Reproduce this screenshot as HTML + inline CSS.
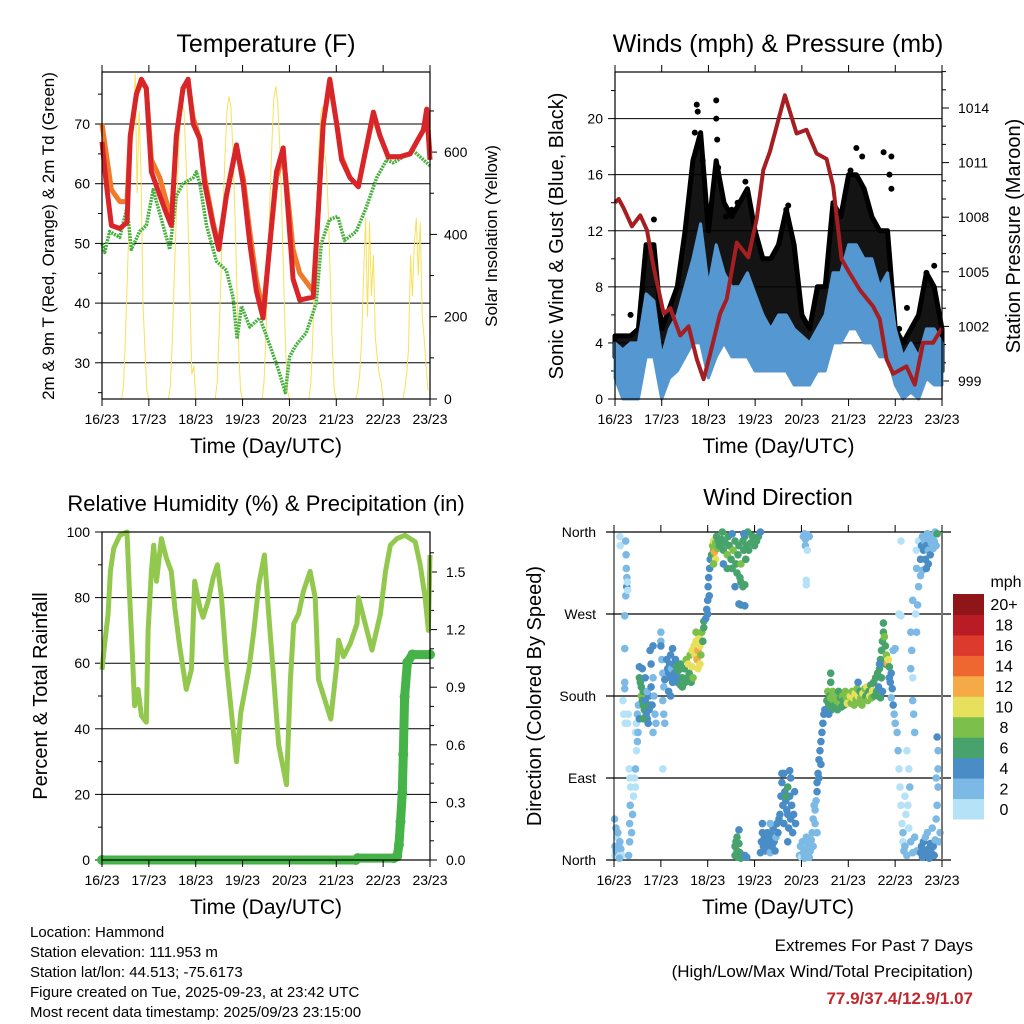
<!DOCTYPE html>
<html><head><meta charset="utf-8">
<style>
html,body{margin:0;padding:0;background:#fff;}
svg{display:block;font-family:"Liberation Sans",Arial,sans-serif;}
</style></head>
<body>
<svg id="chart" width="1024" height="1024" viewBox="0 0 1024 1024" xmlns="http://www.w3.org/2000/svg">
<rect x="0" y="0" width="1024" height="1024" fill="#fff"/>
</svg>
<script>
// ---------- shared ----------
const dayLabels = ["16/23","17/23","18/23","19/23","20/23","21/23","22/23","23/23"];

// ---------- temperature panel ----------
const tHours = [0,2.2,4.8,9.1,12.8,14.5,17.6,20.2,22.7,25.3,29.6,33,35.5,38.1,41.5,44.1,46.7,50.1,52.6,56.9,59.8,63.7,68.9,72.3,75.7,79.1,82.5,86,89.4,92.8,95.4,97.9,101.3,108.2,110.7,113.3,116.7,120.2,122.7,127,131.3,134.7,139,142.4,146.6,152.6,157.8,161.2,164.6,166.3,168];
const tempRed = [67,60,53,52.5,53.5,68,75,77.5,76,62,58,55,53,68,76,77.5,70,67.5,60,53,49,58,66.5,60,50,42,37.5,50,62,66,55,44,40.5,41,55,70,77.5,70,64,61,59.5,65,72,68,64.5,64.5,65,67,69,72.5,64];
const tempOrange = [70,65,59,57,57,68,75,77,76,64,61,57,54,68,76,77,71,67.5,61,53.5,49.5,58,66,61,52,44,38.5,50,61,65,57,49,45,42,55,70,77,70,64.5,61,59.5,65,71.5,68,64.5,64.5,65,67,69,71.5,65];
const dewHours = [0,1.4,3.9,9.1,12.8,15,19.3,22.7,26.2,29.6,34.7,38.1,41.5,46.7,48.4,50.1,53.5,58.6,63.7,67.1,69.2,71.4,75.7,80.8,85.9,90.2,93.9,96.1,99.4,104.6,109.7,112.3,116.5,120.8,124.2,130.2,135.3,140.7,145.8,149.2,154.4,159.5,164.6,168];
const dewGreen = [50,48.5,52,51,56,49,52,53,59,55,49,58,60,61,62,60,53,47,45.5,41,34,39.5,36,37.5,33,29,25,31,33,35,40,50,54,54.5,50.5,52,56,61,64,63.5,64.5,65.5,64,63];
const solarVals = [0,0,0,0,0,0,0,0,0,0,0,30,150,300,450,600,650,790,500,700,550,230,120,20,0,0,0,0,0,0,0,0,0,0,0,30,140,290,440,560,680,720,700,580,450,250,60,80,0,0,0,0,0,0,0,0,0,0,0,40,160,310,460,590,700,735,710,610,460,290,120,20,0,0,0,0,0,0,0,0,0,0,0,40,160,320,480,620,730,760,720,620,470,300,130,20,0,0,0,0,0,0,0,0,0,0,0,40,160,310,460,600,690,711,600,560,440,280,120,20,0,0,0,0,0,0,0,0,0,0,0,20,60,150,300,440,200,430,250,350,150,100,60,40,0,0,0,0,0,0,0,0,0,0,0,20,60,120,350,250,380,440,300,430,200,150,80,20];
const tempTicks = [30,40,50,60,70];
const solarTicks = [0,200,400,600];

// ---------- wind panel ----------
const windHours = [0,4,8,12,16,20,24,28,32,36,40,44,48,52,56,60,64,68,72,76,80,84,88,92,96,100,104,108,112,116,120,124,128,132,136,140,144,148,152,156,160,164,168];
const windLow =  [1.5,0,0,0,3,3,0,1.5,2,3,4,4,1.5,3,4,3,3,3,2,2,2,2,2,1,1,1,2,2,4,4,5,5,4,4,3,3,1,0,0.5,0,1.5,1,1];
const windHigh = [4,3.5,4,4,7.5,7,3,5,6,8,10,12.5,8,11,9,8,8,9,7.5,6,5,6,6,5,4.5,4,5,6,9,9,11,11,10,10,8,9,5,3,4,3,5,5,4];
const gustLow =  [3,2,3,2,5,5,1,3,4,5,8,9,4,7,8,8,7,8,6,4,5,6,6,4,3,2,3,4,6,7,9,8,7,6,5,5,2,1,2,1,4,3,2];
const gustHigh = [4.5,4.5,4.5,5,11,11,5,6.5,8,12,17,19,12,17,14,13,14,15,12,10,10,11,13.5,11,6,5,8,8,14,13,16,16,15,13,12,12,5,4,5,6,9,8,5];
const gustPeakHours = [8,20,41,42,42.5,45,52,52,52.5,53,57,60,63,67,88,89,121,124,127,138,141,142,142,146,150,160,164];
const gustPeakVals  = [6,12.8,19,21,20.5,17,21.3,20,18.5,16.5,13,13.5,14,15.5,13.5,13.8,16.3,17.9,17.3,17.6,16,17.3,15,5,6.5,9,9.5];
const presHours = [0,1.9,4.4,8.7,13,16.4,19.8,25,28.4,33.5,37.8,42,45.5,48.9,54,57.4,62.6,68.5,72.8,76.2,79.6,83.1,87.3,93.3,98.4,103.6,108.7,112.1,116.4,120.7,125.8,132.6,136,139.5,142.9,146.3,149.7,154,158.3,163.4,168];
const presVals = [1008.8,1009,1008.5,1007.5,1008.1,1007.3,1005.3,1002.7,1003,1001.5,1002,1000.2,999.1,1000.5,1002.7,1003.5,1006.6,1005.8,1007.9,1010.6,1011.6,1013,1014.7,1012.6,1012.8,1011.5,1011.2,1009.7,1005.7,1004.9,1004,1003.1,1002.4,1000.2,999.4,999.6,999.8,998.8,1001.1,1001.1,1001.9];
const windTicks = [0,4,8,12,16,20];
const presTicks = [999,1002,1005,1008,1011,1014];

// ---------- RH / precip panel ----------
const rhHours = [0,1.4,3.1,4.3,6,9.1,12.8,14.2,15.6,16.7,18.5,20.2,22.7,23.6,25.3,26.5,27.9,30.4,33,35.5,37.3,39.8,43.2,45.8,47.5,50.1,51.8,54.4,56.9,59.1,61.2,63.7,66.3,68.9,71.1,75.2,77.8,80.3,83.2,85.4,88,90.5,94.5,96.5,98.2,100.7,103.2,106.6,109.2,110.9,113.5,117.2,120.3,121.2,123.7,127.2,130.6,131.4,134.8,138.3,142.6,145.2,147.7,151.1,155.2,160.4,163,165.5,167.2,168];
const rhVals = [58,66,75,88,95,99,100,80,62,47,52,44,42,70,88,96,85,98,92,88,77,65,52,58,85,77,74,79,86,90,80,60,45,30,45,58,70,84,93,75,55,35,23,55,72,75,82,88,80,55,50,43,60,67,62,66,72,80,72,64,75,88,96,98,99,97,90,80,70,93];
const precipHours = [0,130,131,149.5,151.2,152.1,152.9,153.8,154.3,155,156.4,159,168];
const precipVals = [0,0,0.01,0.01,0.02,0.08,0.2,0.35,0.55,0.85,1.03,1.07,1.07];
const rhTicks = [0,20,40,60,80,100];
const precipTicks = ["0.0","0.3","0.6","0.9","1.2","1.5"];

// ---------- wind direction panel ----------
const dirNames = ["North","East","South","West","North"];
const speedLabels = ["0","2","4","6","8","10","12","14","16","18","20+"];
const speedColors = ["#b5e2f6","#7cb9e4","#4a8dc6","#47a36b","#7cc04b","#e6e05c","#f5a947","#ee6630","#dc3a2c","#ba1c25","#8f1519"];
// observations: [hour, direction(deg), speed(mph)]
const wdObs = [
[0.5,5,1],[0.5,15,2],[1,10,2],[1.5,25,1],[2,8,3],[2,30,2],[2.5,15,2],[3,5,1],[3,20,2],[3.5,12,2],[1,35,2],[0.3,45,2],[4,5,1],[2.8,2,2],
[3,355,1],[3.2,345,1],[6,350,2],[6.2,335,3],[6.3,320,2],[6.5,300,4],[6.6,310,3],[6,290,2],[6.8,305,1],[7,296,1],
[5.5,268,2],[5.5,232,3],[5.5,195,3],[5.5,188,3],[5,160,1],[5.8,150,1],[4.6,175,1],
[7.5,5,2],[8,20,3],[8,40,3],[8.3,60,2],[8.5,80,1],[8.2,90,1],[7.8,100,1],[9,30,3],[9.5,50,3],[10,70,1],[11,80,1],[10.5,90,1],[11,100,2],[11.5,120,1],[11,140,1],[12,130,2],[11.5,150,1],[7,150,1],[7.3,160,1],
[12,160,3],[12.5,170,2],[13,155,4],[12.3,140,2],
[13,200,6],[13.5,195,7],[14,190,6],[14,180,8],[14.5,175,6],[15,170,7],[15.5,165,6],[15,185,6],[16,175,5],[16.5,160,4],[17,155,4],[17.5,150,5],[16,200,4],[14.5,210,5],[13,212,4],[18,165,4],[18,180,5],[17,185,3],[18.5,170,6],[15,155,6],
[19,190,4],[19.5,170,4],[20,200,3],[20.5,180,3],[21,160,2],[21.5,150,2],[19,215,5],[18.5,230,4],[20,235,4],
[24,250,2],[24,240,2],[24.5,220,3],[25,205,2],[25.5,190,2],[25,175,2],[25.5,160,2],[26,150,2],[25,100,1],[24,235,4],[20,140,2],
[27,220,4],[27.5,210,4],[28,205,4],[28.5,215,5],[29,200,4],[29,225,4],[29.5,210,3],[30,195,4],[30.5,215,5],[31,205,4],[31.5,220,4],[32,200,4],[32,212,6],[32.5,195,5],[33,208,6],[33.5,200,4],[34,192,6],[34,215,6],[35,200,6],[35,190,7],[28,185,4],[30,232,4],[26,198,4],[29,180,4],
[36,210,6],[36.5,195,7],[37,220,8],[37.5,200,6],[38,215,10],[38.5,205,7],[39,225,9],[39.5,195,6],[40,230,10],[40,212,11],[40.5,200,8],
[41,235,10],[41.5,225,11],[42,240,10],[42.5,220,12],[43,230,13],[43.5,245,11],[44,235,10],[44.5,225,9],[45,250,8],[45.5,240,7],[46,255,7],[46,262,6],[44,215,11],[43,210,10],[42,250,9],
[47,265,4],[47.5,275,4],[48,285,4],[48.2,300,4],[48.5,310,4],[49,320,4],[48.8,290,4],[49.3,330,4],[48,270,4],
[50,335,6],[50.5,345,8],[51,340,9],[51,350,10],[51.5,338,12],[52,348,9],[52.5,355,7],[53,342,8],[53.5,350,6],[52,330,10],[51,325,9],
[54,345,6],[55,352,6],[56,340,7],[57,348,6],[58,335,8],[58.5,355,6],[59,345,7],[60,330,6],[60.5,320,6],[61,340,8],[62,350,6],[62.5,325,7],[63,315,6],[63.5,335,7],[64,345,6],[64.5,310,6],[65,325,8],[66,350,6],[66.5,340,6],[67,355,6],[67.5,330,6],[68,345,6],[68.5,360,6],[69,340,6],[70,348,6],[71,355,6],[72,345,6],[73,350,6],[74,355,6],[65,305,6],[66,300,6],[67,302,6],[62,300,5],[58,320,6],[56,325,4],[55.5,360,6],[60.5,358,4],[66.5,358,4],[75,360,4],
[65,280,6],[67,279,5],[64,281,4],
[62,5,6],[62,15,6],[62.5,20,7],[63,10,6],[63.5,3,6],[64,18,6],[64.5,8,6],[65,2,7],[63,25,6],[67,5,4],[68,3,4],[64,33,4],
[75,8,5],[75.5,20,4],[76,30,4],[76.5,15,4],[77,25,4],[77.5,10,4],[78,18,4],[78.5,30,4],[79,12,4],[79.5,22,4],[80,8,3],[80.5,28,4],[81,15,4],[81.5,35,4],[82,20,4],[82.5,10,4],[83,25,3],[83.5,40,4],[84,30,4],[84.5,45,4],[76,40,4],[80,40,3],
[85,50,4],[85.5,70,4],[86,85,4],[86,95,4],[86.5,60,4],[87,40,4],[87.5,75,5],[88,65,4],[88.5,55,4],[89,80,6],[89,50,4],[89.5,35,4],[90,70,4],[90.5,90,4],[90.5,45,4],[91,60,4],[91.5,30,4],[92,50,4],[92.5,75,4],[93,40,4],[88,70,7],[87,95,4],[90,98,4],[89,20,4],
[95,5,2],[95.5,15,2],[96,3,1],[96.5,20,2],[97,8,2],[97.5,2,2],[98,12,2],[98.5,25,2],[99,5,2],[99.5,18,2],[100,3,2],[100.5,10,2],[101,22,2],[101.5,30,2],[102,45,2],[102.5,60,2],[102,15,2],
[97,355,2],[97.5,358,2],[98,352,2],[99,357,2],[100,355,2],[98,345,2],[99,340,1],[98.5,307,1],[98.5,302,1],
[103,55,2],[103.5,65,3],[104,75,4],[104,85,4],[104.5,95,4],[105,110,4],[105.5,120,4],[106,130,4],[106.5,140,4],[107,150,4],[107.5,160,4],[108,165,4],[105,90,4],[106,105,4],[103,40,2],[104,30,2],
[109,175,6],[109.5,185,8],[110,170,7],[110.5,180,6],[111,178,8],[111.5,165,6],[112,185,8],[112.5,175,8],[113,170,7],[113.5,180,9],[114,175,8],[114.5,165,6],[115,185,7],[115.5,172,8],[116,178,7],[116.5,168,6],[117,180,8],[117.5,175,6],[118,170,6],[118.5,185,8],[119,178,9],[119.5,172,10],[120,182,8],[111,195,6],[111,205,6],[110,160,4],
[121,180,10],[121.5,172,8],[122,185,9],[122.5,178,11],[123,170,8],[123.5,183,10],[124,176,9],[124.5,188,8],[125,180,10],[125.5,173,8],[126,185,7],[126.5,178,9],[127,170,8],[127.5,183,10],[128,176,8],[128.5,188,9],[129,180,6],[129.5,190,10],[130,175,8],[130.5,185,7],[131,180,10],[131.5,192,6],[132,178,8],[132.5,186,10],[133,195,6],[133.5,180,7],[134,200,6],[134.5,185,6],[135,205,6],[135.5,190,4],[136,210,6],[136.5,178,6],[137,200,6],[137.5,185,4],[125,195,4],
[136.5,220,6],[137,230,6],[137.5,240,6],[138,250,6],[138,260,6],[138.5,245,8],[139,235,6],[139.5,225,8],[139,215,6],[136,215,4],
[140,216,12],[140.5,220,11],[141,212,6],[141,200,4],[141.5,195,4],[142,205,4],[142.5,188,4],[142,178,3],[143,170,4],[143.5,160,3],[144,150,3],[144,232,2],[143,230,2],
[145,140,2],[145.5,120,2],[146,100,1],[146.5,80,1],[147,60,1],[147.5,40,1],[148,20,1],[148.5,10,2],[146,270,1],[147,268,1],[148,30,2],[149,15,2],[150,5,2],[150,120,1],[151,100,1],[151.5,80,2],[150.5,60,1],[152,250,2],[152.5,230,2],[152,210,2],[153,200,1],[153,175,2],[153.5,160,2],[154,140,2],[149,70,1],[149.5,50,1],[151,35,1],[152,20,2],[153,8,2],[154,25,2],[155,10,2],[155,250,2],[155.5,280,2],[154.5,270,1],[156,300,2],[155,320,2],[154.8,340,1],[156,350,1],[153,285,2],[147,350,1],
[157,330,4],[157.5,345,4],[158,355,3],[158.5,340,4],[159,350,3],[159.5,330,4],[160,345,4],[160.5,358,3],[161,340,3],[161.5,352,3],[162,335,4],[162.5,348,3],[163,356,2],[163.5,342,3],[164,350,2],[164.5,360,3],[165,345,2],[165.5,358,6],[158,318,2],[160,320,4],[161,325,4],[157,312,2],
[157,8,4],[157.5,15,4],[158,3,4],[158.5,20,4],[159,10,4],[159.5,25,3],[160,5,4],[160.5,30,3],[161,12,4],[161.5,2,4],[162,18,4],[162.5,8,4],[163,35,3],[163.5,15,4],[164,5,4],[164.5,22,3],[165,45,2],[165.5,60,2],[166,80,3],[166,100,3],[165.5,135,4],[166,120,3],[166.5,20,2],[167,30,2],[165,90,2]
];

// ---------- drawing helpers ----------
const NS = "http://www.w3.org/2000/svg";
const svg = document.getElementById("chart");
function mk(parent, tag, attrs, name) {
  const el = document.createElementNS(NS, tag);
  for (const k in attrs) el.setAttribute(k, attrs[k]);
  
  
  parent.appendChild(el);
  return el;
}
function txt(parent, x, y, s, size, anchor, name, extra) {
  const t = mk(parent, "text", Object.assign({x:x, y:y, "font-size":size, "text-anchor":anchor||"middle", fill:"#000"}, extra||{}), name);
  t.textContent = s;
  return t;
}
function group(name) { return mk(svg, "g", {}, name); }
function pathFrom(xs, ys) { return xs.map((x,i)=>(i?"L":"M")+x.toFixed(1)+","+ys[i].toFixed(1)).join(""); }

function timeAxis(g, x0, x1, yb, ytop, withTop) {
  const X = h => x0 + h*(x1-x0)/168;
  dayLabels.forEach((lab,i) => {
    const x = X(i*24);
    mk(g, "line", {x1:x, y1:yb, x2:x, y2:yb+7, stroke:"#000", "stroke-width":1}, "x-tick");
    if (withTop) mk(g, "line", {x1:x, y1:ytop, x2:x, y2:ytop-7, stroke:"#000", "stroke-width":1}, "x-tick-top");
    txt(g, x, yb+25, lab, 14, "middle", "x-tick-label");
  });
  txt(g, (x0+x1)/2, yb+54, "Time (Day/UTC)", 21, "middle", "x-axis-title");
}

// ================= Panel 1: Temperature =================
(function(){
  const g = group("temperature-panel");
  const x0=102, x1=430, y0=72, y1=399;
  const X = h => x0 + h*(x1-x0)/168;
  const Y = t => 124 + (70-t)*5.97;
  const S = w => 399 - w*0.4115;
  tempTicks.forEach(t => {
    mk(g, "line", {x1:x0, y1:Y(t), x2:x1, y2:Y(t), stroke:"#000", "stroke-width":1}, "temp-gridline");
    mk(g, "line", {x1:x0-7, y1:Y(t), x2:x0, y2:Y(t), stroke:"#000"}, "temp-tick");
    txt(g, x0-12, Y(t)+5, String(t), 14, "end", "temp-tick-label");
  });
  [25,35,45,55,65,75].forEach(t => mk(g, "line", {x1:x0-4, y1:Y(t), x2:x0, y2:Y(t), stroke:"#000"}, "temp-minor-tick"));
  solarTicks.forEach(w => {
    mk(g, "line", {x1:x1, y1:S(w), x2:x1+7, y2:S(w), stroke:"#000"}, "solar-tick");
    txt(g, x1+14, S(w)+5, String(w), 14, "start", "solar-tick-label");
  });
  [100,300,500,700].forEach(w => mk(g, "line", {x1:x1, y1:S(w), x2:x1+4, y2:S(w), stroke:"#000"}, "solar-minor-tick"));
  const sh = solarVals.map((v,i)=>i);
  mk(g, "path", {d:pathFrom(sh.map(X), solarVals.map(S)), fill:"none", stroke:"#f7e15a", "stroke-width":1}, "solar-insolation-line");
  mk(g, "path", {d:pathFrom(dewHours.map(X), dewGreen.map(Y)), fill:"none", stroke:"#48b03e", "stroke-width":3.5, "stroke-dasharray":"2 1", "stroke-linejoin":"round"}, "dewpoint-line");
  mk(g, "path", {d:pathFrom(tHours.map(X), tempOrange.map(Y)), fill:"none", stroke:"#f07a2a", "stroke-width":5, "stroke-linejoin":"round"}, "temp-9m-line");
  mk(g, "path", {d:pathFrom(tHours.map(X), tempRed.map(Y)), fill:"none", stroke:"#d8252a", "stroke-width":5, "stroke-linejoin":"round"}, "temp-2m-line");
  mk(g, "rect", {x:x0, y:y0, width:x1-x0, height:y1-y0, fill:"none", stroke:"#000", "stroke-width":1.2}, "temp-plot-frame");
  timeAxis(g, x0, x1, y1, y0, true);
  txt(g, 266, 52, "Temperature (F)", 25, "middle", "temp-title");
  txt(g, 0, 0, "2m & 9m T (Red, Orange) & 2m Td (Green)", 17, "middle", "temp-y-axis-title", {transform:"translate(54,236) rotate(-90)"});
  txt(g, 0, 0, "Solar Insolation (Yellow)", 17, "middle", "solar-y-axis-title", {transform:"translate(497,236) rotate(-90)"});
})();

// ================= Panel 2: Winds & Pressure =================
(function(){
  const g = group("winds-panel");
  const x0=615, x1=942, y0=72, y1=399;
  const X = h => x0 + h*(x1-x0)/168;
  const W = v => 399 - v*14.02;
  const P = p => 381 - (p-999)*18.2;
  windTicks.forEach(v => {
    if (v>0) mk(g, "line", {x1:x0, y1:W(v), x2:x1, y2:W(v), stroke:"#000"}, "wind-gridline");
    mk(g, "line", {x1:x0-7, y1:W(v), x2:x0, y2:W(v), stroke:"#000"}, "wind-tick");
    txt(g, x0-12, W(v)+5, String(v), 14, "end", "wind-tick-label");
  });
  [2,6,10,14,18,22].forEach(v => mk(g, "line", {x1:x0-4, y1:W(v), x2:x0, y2:W(v), stroke:"#000"}, "wind-minor-tick"));
  presTicks.forEach(p => {
    mk(g, "line", {x1:x1, y1:P(p), x2:x1+7, y2:P(p), stroke:"#000"}, "pressure-tick");
    txt(g, x1+16, P(p)+5, String(p), 14, "start", "pressure-tick-label");
  });
  [1000,1001,1003,1004,1006,1007,1009,1010,1012,1013,1015,1016].forEach(p => mk(g, "line", {x1:x1, y1:P(p), x2:x1+4, y2:P(p), stroke:"#000"}, "pressure-minor-tick"));
  const gx = windHours.map(X);
  const gustPoly = pathFrom(gx.concat(gx.slice().reverse()), gustHigh.map(W).concat(gustLow.map(W).reverse())) + "Z";
  mk(g, "path", {d:gustPoly, fill:"#000", "fill-opacity":0.92, stroke:"#000", "stroke-width":5, "stroke-linejoin":"round"}, "gust-points");
  gustPeakHours.forEach((h,i) => mk(g, "circle", {cx:X(h), cy:W(gustPeakVals[i]), r:3, fill:"#000"}, "gust-peak-point"));
  const windPoly = pathFrom(gx.concat(gx.slice().reverse()), windHigh.map(W).concat(windLow.map(W).reverse())) + "Z";
  mk(g, "path", {d:windPoly, fill:"#5597d0", stroke:"#5597d0", "stroke-width":3, "stroke-linejoin":"round"}, "sonic-wind-band");
  mk(g, "path", {d:pathFrom(presHours.map(X), presVals.map(P)), fill:"none", stroke:"#a51e22", "stroke-width":4, "stroke-linejoin":"round"}, "pressure-line");
  mk(g, "rect", {x:x0, y:y0, width:x1-x0, height:y1-y0, fill:"none", stroke:"#000", "stroke-width":1.2}, "wind-plot-frame");
  timeAxis(g, x0, x1, y1, y0, true);
  txt(g, 778, 52, "Winds (mph) & Pressure (mb)", 25, "middle", "winds-title");
  txt(g, 0, 0, "Sonic Wind & Gust (Blue, Black)", 20, "middle", "wind-y-axis-title", {transform:"translate(563,236) rotate(-90)"});
  txt(g, 0, 0, "Station Pressure (Maroon)", 20, "middle", "pressure-y-axis-title", {transform:"translate(1020,236) rotate(-90)"});
})();

// ================= Panel 3: RH & Precip =================
(function(){
  const g = group("humidity-panel");
  const x0=102, x1=430, y0=532, y1=860;
  const X = h => x0 + h*(x1-x0)/168;
  const R = v => 860 - v*3.28;
  const PR = v => 860 - v*192;
  rhTicks.forEach(v => {
    if (v>0 && v<100) mk(g, "line", {x1:x0, y1:R(v), x2:x1, y2:R(v), stroke:"#000"}, "rh-gridline");
    mk(g, "line", {x1:x0-7, y1:R(v), x2:x0, y2:R(v), stroke:"#000"}, "rh-tick");
    txt(g, x0-12, R(v)+5, String(v), 14, "end", "rh-tick-label");
  });
  [10,30,50,70,90].forEach(v => mk(g, "line", {x1:x0-4, y1:R(v), x2:x0, y2:R(v), stroke:"#000"}, "rh-minor-tick"));
  precipTicks.forEach(s => {
    const v = parseFloat(s);
    mk(g, "line", {x1:x1, y1:PR(v), x2:x1+7, y2:PR(v), stroke:"#000"}, "precip-tick");
    txt(g, x1+16, PR(v)+5, s, 14, "start", "precip-tick-label");
  });
  [0.1,0.2,0.4,0.5,0.7,0.8,1.0,1.1,1.3,1.4,1.6].forEach(v => mk(g, "line", {x1:x1, y1:PR(v), x2:x1+4, y2:PR(v), stroke:"#000"}, "precip-minor-tick"));
  mk(g, "path", {d:pathFrom(rhHours.map(X), rhVals.map(R)), fill:"none", stroke:"#93c84f", "stroke-width":5, "stroke-linejoin":"round"}, "relative-humidity-line");
  mk(g, "path", {d:pathFrom(precipHours.map(X), precipVals.map(PR)), fill:"none", stroke:"#45b347", "stroke-width":9, "stroke-linecap":"round", "stroke-linejoin":"round"}, "precip-total-line");
  precipHours.forEach((h,i) => mk(g, "circle", {cx:X(h), cy:PR(precipVals[i]), r:5, fill:"#45b347"}, "precip-point"));
  mk(g, "rect", {x:x0, y:y0, width:x1-x0, height:y1-y0, fill:"none", stroke:"#000", "stroke-width":1.2}, "rh-plot-frame");
  timeAxis(g, x0, x1, y1, y0, false);
  txt(g, 266, 511, "Relative Humidity (%) & Precipitation (in)", 22, "middle", "rh-title");
  txt(g, 0, 0, "Percent & Total Rainfall", 20, "middle", "rh-y-axis-title", {transform:"translate(47,696) rotate(-90)"});
})();

// ================= Panel 4: Wind Direction =================
(function(){
  const g = group("wind-direction-panel");
  const x0=614, x1=942, y0=532, y1=860;
  const X = h => x0 + h*(x1-x0)/168;
  const D = d => 860 - d*328/360;
  dirNames.forEach((n,i) => {
    const y = D(i*90);
    mk(g, "line", {x1:606, y1:y, x2:951, y2:y, stroke:"#000", "stroke-width":1.2}, "direction-gridline");
    txt(g, 596, y+5, n, 14, "end", "direction-label");
  });
  wdObs.forEach(o => {
    const ci = Math.min(10, Math.floor(o[2]/2));
    mk(g, "circle", {cx:X(o[0]), cy:D(o[1]), r:3.8, fill:speedColors[ci]}, "wind-direction-point");
  });
  mk(g, "line", {x1:x0, y1:y0, x2:x0, y2:y1, stroke:"#000"}, "direction-left-axis");
  mk(g, "line", {x1:x1, y1:y0, x2:x1, y2:y1, stroke:"#777", "stroke-width":2}, "direction-right-axis");
  timeAxis(g, x0, x1, y1, y0, false);
  dayLabels.forEach((l,i)=> mk(g, "line", {x1:X(i*24), y1:y0, x2:X(i*24), y2:y0-7, stroke:"#000"}, "x-tick-top"));
  txt(g, 778, 505, "Wind Direction", 23, "middle", "direction-title");
  txt(g, 0, 0, "Direction (Colored By Speed)", 20, "middle", "direction-y-axis-title", {transform:"translate(541,696) rotate(-90)"});
  // colorbar
  const cb = mk(svg, "g", {}, "speed-colorbar");
  const bh = 225/11;
  speedColors.forEach((c,i) => {
    const y = 819 - (i+1)*bh;
    mk(cb, "rect", {x:953, y:y, width:31, height:bh+0.5, fill:c}, "colorbar-box");
    txt(cb, 1004, y+bh/2+6, speedLabels[i], 16, "middle", "colorbar-label");
  });
  txt(cb, 1006, 587, "mph", 16, "middle", "colorbar-unit");
})();

// ================= Footer text =================
(function(){
  const g = group("station-info");
  ["Location: Hammond","Station elevation: 111.953 m","Station lat/lon: 44.513; -75.6173","Figure created on Tue, 2025-09-23, at 23:42 UTC","Most recent data timestamp: 2025/09/23 23:15:00"]
    .forEach((s,i) => txt(g, 30, 937+i*20, s, 15, "start", "station-info-line"));
  const e = group("extremes-summary");
  txt(e, 973, 951, "Extremes For Past 7 Days", 17, "end", "extremes-heading");
  txt(e, 973, 977, "(High/Low/Max Wind/Total Precipitation)", 17, "end", "extremes-subheading");
  txt(e, 973, 1004, "77.9/37.4/12.9/1.07", 17, "end", "extremes-values", {fill:"#c1272d", "font-weight":"bold"});
})();
</script>
</body></html>
